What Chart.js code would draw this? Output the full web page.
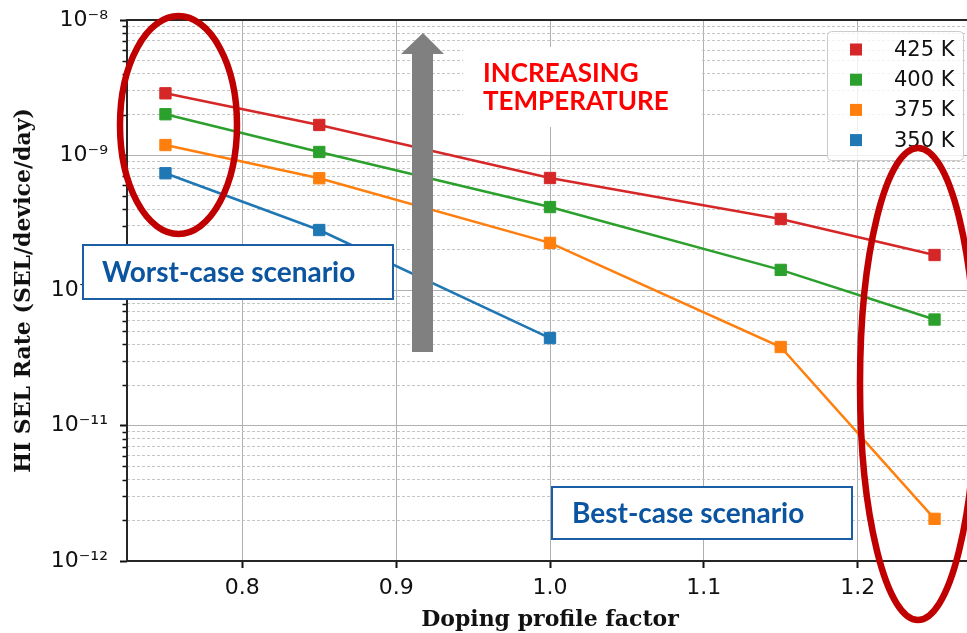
<!DOCTYPE html>
<html>
<head>
<meta charset="utf-8">
<script src="https://cdn.jsdelivr.net/npm/chart.js@4.4.1/dist/chart.umd.min.js"></script>
<style>
  html, body { margin: 0; padding: 0; background: #fff; overflow: hidden; }
  #wrap { width: 967px; height: 633px; overflow: hidden; }
</style>
</head>
<body>
<div id="wrap"><canvas id="chart" width="990" height="633"></canvas></div>
<script>
const DOPING = [0.75, 0.85, 1.0, 1.15, 1.25];
const SEL_425K = [2.87e-9, 1.675e-9, 6.79e-10, 3.38e-10, 1.83e-10];
const SEL_400K = [2.01e-9, 1.057e-9, 4.14e-10, 1.42e-10, 6.1e-11];
const SEL_375K = [1.19e-9, 6.76e-10, 2.25e-10, 3.82e-11, 2.05e-12];
const SEL_350K = [7.36e-10, 2.8e-10, 4.45e-11];
const X_TICKS = [0.8, 0.9, 1.0, 1.1, 1.2];
const Y_DECADES = [1e-12, 1e-11, 1e-10, 1e-9, 1e-8];
const Y_TICK_LABELS = ['10⁻¹²', '10⁻¹¹', '10⁻¹⁰', '10⁻⁹', '10⁻⁸'];

const REEKSEN = [
  { label: '425 K', kleur: '#d62728', waarden: SEL_425K },
  { label: '400 K', kleur: '#2ca02c', waarden: SEL_400K },
  { label: '375 K', kleur: '#ff7f0e', waarden: SEL_375K },
  { label: '350 K', kleur: '#1f77b4', waarden: SEL_350K },
];

const isDecade = v => Math.abs(Math.log10(v) - Math.round(Math.log10(v))) < 1e-6;

function tekenLegenda(ctx, chart) {
  ctx.save();
  ctx.fillStyle = 'rgba(255,255,255,0.8)';
  ctx.strokeStyle = '#cccccc';
  ctx.lineWidth = 1;
  ctx.beginPath();
  ctx.roundRect(827.5, 31.5, 136, 129, 4);
  ctx.fill();
  ctx.stroke();
  ctx.font = '21px "DejaVu Sans"';
  ctx.textBaseline = 'middle';
  chart.data.datasets.forEach((ds, i) => {
    const cy = 49.5 + i * 30.2;
    ctx.fillStyle = ds.backgroundColor;
    ctx.fillRect(850, cy - 6, 12, 12);
    ctx.fillStyle = '#111';
    ctx.fillText(ds.label, 894, cy + 1);
  });
  ctx.restore();
}

function tekenKader(ctx, tekst, x, y, w, h, tx, ty) {
  ctx.fillStyle = '#fff';
  ctx.fillRect(x, y, w, h);
  ctx.strokeStyle = '#1a5ea6';
  ctx.lineWidth = 2;
  ctx.strokeRect(x, y, w, h);
  ctx.fillStyle = '#0b55a0';
  ctx.font = 'bold 28px Lato';
  ctx.textBaseline = 'alphabetic';
  ctx.fillText(tekst, tx, ty);
}

const extra = {
  id: 'extra',
  afterDraw(chart) {
    const { ctx, chartArea: a } = chart;
    const ys = chart.scales.y;
    ctx.save();

    // kleine tickjes voor de tussenliggende waarden
    ctx.strokeStyle = '#111';
    ctx.lineWidth = 1.5;
    ctx.beginPath();
    ys.ticks.forEach(t => {
      if (isDecade(t.value)) return;
      const py = Math.round(ys.getPixelForValue(t.value)) + 0.5;
      ctx.moveTo(a.left - 4.5, py);
      ctx.lineTo(a.left, py);
    });
    ctx.stroke();

    // assenkader
    ctx.strokeStyle = '#262626';
    ctx.lineWidth = 2;
    ctx.strokeRect(a.left, a.top, a.right - a.left, a.bottom - a.top);

    tekenLegenda(ctx, chart);

    // grijze pijl
    ctx.fillStyle = '#808080';
    ctx.beginPath();
    ctx.moveTo(423, 33);
    ctx.lineTo(444, 54);
    ctx.lineTo(433, 54);
    ctx.lineTo(433, 352);
    ctx.lineTo(412, 352);
    ctx.lineTo(412, 54);
    ctx.lineTo(401, 54);
    ctx.closePath();
    ctx.fill();

    ctx.fillStyle = '#fff';
    ctx.fillRect(463, 47, 239, 80);
    ctx.fillStyle = '#ff0000';
    ctx.font = 'bold 26px Lato';
    ctx.fillText('INCREASING', 483, 82);
    ctx.fillText('TEMPERATURE', 483, 110);

    tekenKader(ctx, 'Worst-case scenario', 83, 245, 310, 54, 102, 282);
    tekenKader(ctx, 'Best-case scenario', 552, 487, 300, 52, 572, 523);

    ctx.strokeStyle = '#c00000';
    ctx.lineWidth = 6.5;
    ctx.beginPath();
    ctx.ellipse(178.5, 125, 58.5, 109, 0, 0, Math.PI * 2);
    ctx.stroke();
    ctx.beginPath();
    ctx.ellipse(918, 384, 58, 236, 0, 0, Math.PI * 2);
    ctx.stroke();

    ctx.restore();
  }
};

Chart.defaults.font.family = '"DejaVu Sans"';
Chart.defaults.color = '#111';

new Chart(document.getElementById('chart'), {
  type: 'line',
  data: {
    datasets: REEKSEN.map(r => ({
      label: r.label,
      data: r.waarden.map((v, i) => ({ x: DOPING[i], y: v })),
      borderColor: r.kleur,
      backgroundColor: r.kleur,
      borderWidth: 2.5,
      pointStyle: 'rect',
      pointRadius: 8,
      pointBorderWidth: 1,
      tension: 0,
    })),
  },
  options: {
    responsive: false,
    animation: false,
    layout: { padding: { left: 0, top: 20, right: 17, bottom: 0 } },
    plugins: { legend: { display: false }, tooltip: { enabled: false } },
    scales: {
      x: {
        type: 'linear',
        min: 0.725,
        max: 1.275,
        afterBuildTicks: s => { s.ticks = X_TICKS.map(v => ({ value: v })); },
        afterFit: s => { s.height = 72; s.paddingLeft = 0; s.paddingRight = 0; },
        ticks: { font: { size: 22 }, padding: 7, callback: v => v.toFixed(1) },
        grid: { color: '#b0b0b0', lineWidth: 1, tickLength: 7, tickWidth: 2, tickColor: '#111' },
        border: { display: false },
        title: {
          display: true,
          text: 'Doping profile factor',
          font: { family: '"DejaVu Serif"', weight: 'bold', size: 22 },
          padding: { top: 0, bottom: 0 },
        },
      },
      y: {
        type: 'logarithmic',
        min: 1e-12,
        max: 1e-8,
        afterBuildTicks: s => {
          const t = [];
          Y_DECADES.forEach((d, i) => {
            t.push({ value: d });
            if (i < Y_DECADES.length - 1) for (let m = 2; m <= 9; m++) t.push({ value: d * m });
          });
          s.ticks = t;
        },
        afterFit: s => { s.width = 127; s.paddingTop = 0; s.paddingBottom = 0; },
        ticks: {
          autoSkip: false,
          font: { size: 22 },
          padding: 12,
          callback: v => {
            const i = Y_DECADES.findIndex(d => Math.abs(d - v) / d < 1e-6);
            return i >= 0 ? Y_TICK_LABELS[i] : '';
          },
        },
        grid: {
          color: c => c.tick && !isDecade(c.tick.value) ? '#c4c4c4' : '#b0b0b0',
          lineWidth: 1,
          tickLength: 7,
          tickWidth: 2,
          tickColor: c => c.tick && !isDecade(c.tick.value) ? 'rgba(0,0,0,0)' : '#111',
        },
        border: { display: false, dash: c => c.tick && !isDecade(c.tick.value) ? [3, 2] : [] },
        title: {
          display: true,
          text: 'HI SEL Rate (SEL/device/day)',
          font: { family: '"DejaVu Serif"', weight: 'bold', size: 22 },
          padding: { top: 11, bottom: 0 },
        },
      },
    },
  },
  plugins: [extra],
});
</script>
</body>
</html>
